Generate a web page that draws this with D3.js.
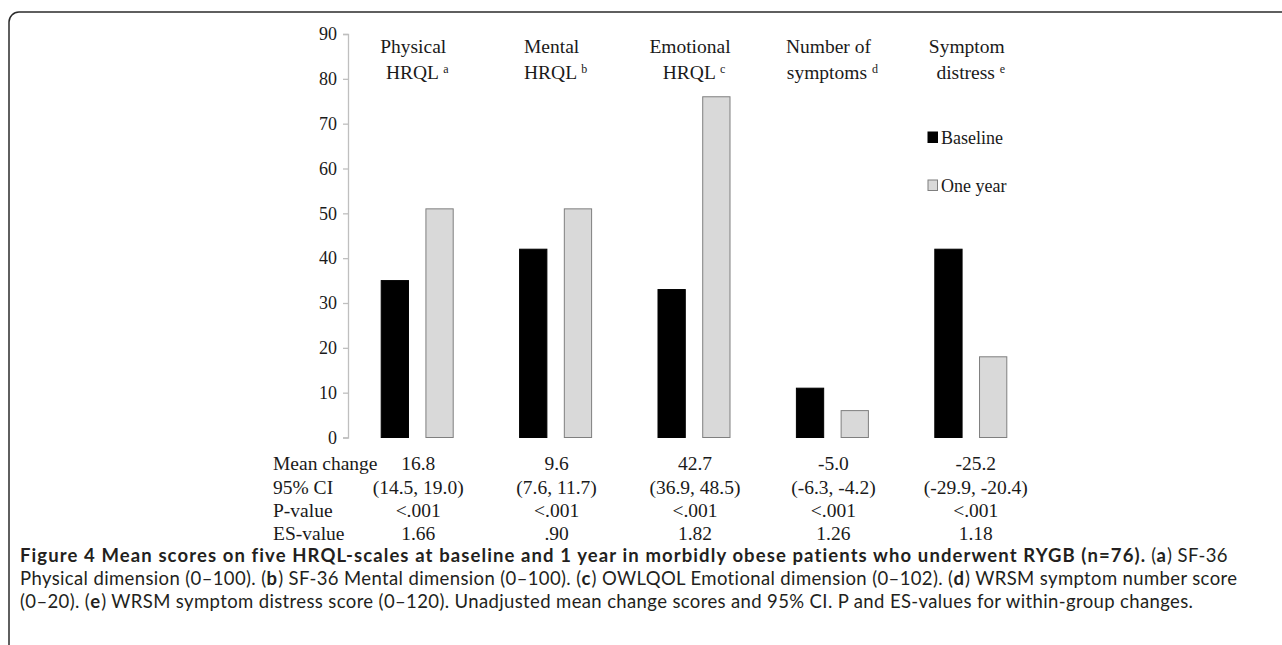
<!DOCTYPE html>
<html lang="en">
<head>
  <meta charset="UTF-8">
  <title>Figure 4 HRQL scales</title>
  <style>
    body {
      margin: 0;
      background: #fff;
    }
    svg text {
      font-family: "Liberation Serif", "Times New Roman", serif;
      fill: #1a1a1a;
    }
    svg text.caption {
      font-family: Lato, "Open Sans", sans-serif;
      fill: #231f20;
    }
  </style>
</head>
<body>
  <div id="chart"></div>

  <script src="https://d3js.org/d3.v7.min.js"></script>
  <script>
    // chart data
    const labelTop = ["Physical", "Mental", "Emotional", "Number of", "Symptom"];
    const labelBottom = ["HRQL", "HRQL", "HRQL", "symptoms", "distress"];
    const labelSup = ["a", "b", "c", "d", "e"];
    const series = ["Baseline", "One year"];
    const baseline = [35, 42, 33, 11, 42];
    const oneYear = [51, 51, 76, 6, 18];
    const yTicks = [0, 10, 20, 30, 40, 50, 60, 70, 80, 90];

    // table under the chart
    const rowLabels = ["Mean change", "95% CI", "P-value", "ES-value"];
    const meanChange = ["16.8", "9.6", "42.7", "-5.0", "-25.2"];
    const ci95 = ["(14.5, 19.0)", "(7.6, 11.7)", "(36.9, 48.5)", "(-6.3, -4.2)", "(-29.9, -20.4)"];
    const pValue = ["<.001", "<.001", "<.001", "<.001", "<.001"];
    const esValue = ["1.66", ".90", "1.82", "1.26", "1.18"];

    // caption, split in lines of [text, bold] pieces
    const captionLines = [
      [["Figure 4 Mean scores on five HRQL-scales at baseline and 1 year in morbidly obese patients who underwent RYGB (n=76).", true],
       [" (", false], ["a", true], [") SF-36", false]],
      [["Physical dimension (0\u2013100). (", false], ["b", true], [") SF-36 Mental dimension (0\u2013100). (", false], ["c", true],
       [") OWLQOL Emotional dimension (0\u2013102). (", false], ["d", true], [") WRSM symptom number score", false]],
      [["(0\u201320). (", false], ["e", true], [") WRSM symptom distress score (0\u2013120). Unadjusted mean change scores and 95% CI. P and ES-values for within-group changes.", false]]
    ];

    const width = 1282, height = 645;
    const data = labelTop.map((d, i) => ({ i, values: [baseline[i], oneYear[i]] }));

    const svg = d3.select("#chart").append("svg")
      .attr("width", width)
      .attr("height", height);

    // frame round the figure
    svg.append("path")
      .attr("d", "M9,645 V22 A10,10 0 0 1 19,12 H1282")
      .attr("fill", "none")
      .attr("stroke", "#2b2b2b")
      .attr("stroke-width", 1.5);

    const x0 = d3.scaleBand()
      .domain(d3.range(labelTop.length))
      .range([348, 1040]);

    const x1 = d3.scaleBand()
      .domain(series)
      .range([x0.bandwidth() / 2 - 36, x0.bandwidth() / 2 + 36])
      .paddingInner(0.39);

    const y = d3.scaleLinear()
      .domain([0, 90])
      .range([437.5, 34]);

    const color = d3.scaleOrdinal().domain(series).range(["#000000", "#d9d9d9"]);
    const stroke = d3.scaleOrdinal().domain(series).range(["#000000", "#7f7f7f"]);

    // y axis
    const yAxis = svg.append("g")
      .attr("transform", "translate(348,0)")
      .call(d3.axisLeft(y).tickValues(yTicks).tickSize(5).tickPadding(6));
    yAxis.selectAll("path, line").attr("stroke", "#bfbfbf").attr("stroke-width", 1.3);
    yAxis.selectAll("text")
      .attr("font-size", 18)
      .attr("font-family", "Liberation Serif")
      .attr("fill", "#1a1a1a");

    // bars
    const groups = svg.selectAll(".group")
      .data(data)
      .enter()
      .append("g")
      .attr("class", "group")
      .attr("transform", d => `translate(${x0(d.i)},0)`);

    groups.selectAll("rect")
      .data(d => series.map((s, j) => ({ s, v: d.values[j] })))
      .enter()
      .append("rect")
      .attr("x", d => x1(d.s))
      .attr("y", d => y(d.v))
      .attr("width", x1.bandwidth())
      .attr("height", d => y(0) - y(d.v))
      .attr("fill", d => color(d.s))
      .attr("stroke", d => stroke(d.s))
      .attr("stroke-width", 1);

    // category labels
    const cx = i => x0(i) + x0.bandwidth() / 2;

    svg.selectAll(".lab1")
      .data(labelTop)
      .enter()
      .append("text")
      .attr("x", (d, i) => cx(i) - 4)
      .attr("y", 53)
      .attr("text-anchor", "middle")
      .attr("font-size", 19.5)
      .text(d => d);

    const lab2 = svg.selectAll(".lab2")
      .data(labelBottom)
      .enter()
      .append("text")
      .attr("x", (d, i) => cx(i))
      .attr("y", 79)
      .attr("text-anchor", "middle")
      .attr("font-size", 19.5);
    lab2.append("tspan").text(d => d + " ");
    lab2.append("tspan")
      .attr("font-size", 12)
      .attr("dy", -6)
      .text((d, i) => labelSup[i]);

    // legend
    const legend = svg.selectAll(".legend")
      .data(series)
      .enter()
      .append("g")
      .attr("transform", (d, i) => `translate(928,${132 + i * 48})`);
    legend.append("rect")
      .attr("width", 9.5)
      .attr("height", 10.5)
      .attr("fill", d => color(d))
      .attr("stroke", d => stroke(d))
      .attr("stroke-width", 1);
    legend.append("text")
      .attr("x", 13)
      .attr("y", 12)
      .attr("font-size", 18)
      .text(d => d);

    // table
    const rows = [meanChange, ci95, pValue, esValue];
    const rowY = [470, 493.5, 517, 540];

    svg.selectAll(".rowlab")
      .data(rowLabels)
      .enter()
      .append("text")
      .attr("x", 273)
      .attr("y", (d, i) => rowY[i])
      .attr("font-size", 19.5)
      .text(d => d);

    rows.forEach((row, r) => {
      svg.selectAll(".cell" + r)
        .data(row)
        .enter()
        .append("text")
        .attr("x", (d, i) => cx(i) + (i === 4 ? 5 : 1))
        .attr("y", rowY[r])
        .attr("text-anchor", "middle")
        .attr("font-size", 19.5)
        .text(d => d);
    });

    // caption
    const capY = [562, 585, 608];
    const capText = svg.selectAll(".caption")
      .data(captionLines)
      .enter()
      .append("text")
      .attr("class", "caption")
      .attr("x", 20)
      .attr("y", (d, i) => capY[i])
      .attr("font-size", 18.5);
    capText.selectAll("tspan")
      .data(d => d)
      .enter()
      .append("tspan")
      .attr("font-weight", d => d[1] ? "bold" : "normal")
      .attr("letter-spacing", d => d[1] ? 1.1 : 0.37)
      .text(d => d[0]);
  </script>
</body>
</html>
